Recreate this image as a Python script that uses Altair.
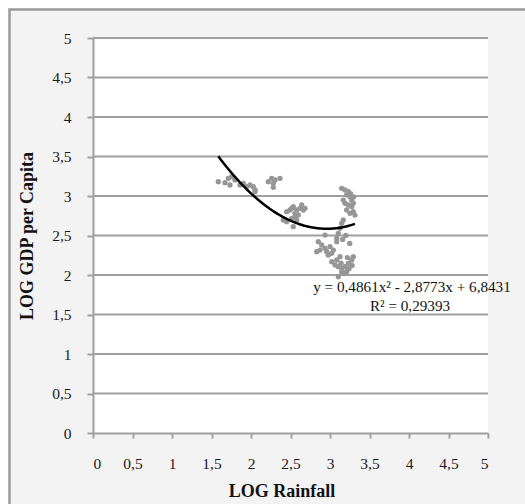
import altair as alt
import pandas as pd

# Scatter data (LOG Rainfall, LOG GDP per Capita)
log_rainfall = [
    1.586, 1.671, 1.713, 1.734, 1.755, 1.797, 1.861, 1.903, 1.945, 1.987, 2.029, 2.051, 2.051,
    2.219, 2.262, 2.304, 2.282, 2.282, 2.367,
    2.452, 2.494, 2.515, 2.535, 2.557, 2.578, 2.599, 2.620, 2.642, 2.662, 2.684, 2.409, 2.452,
    2.515, 2.535, 2.557, 2.578,
    3.148, 3.190, 3.232, 3.211, 3.253, 3.275, 3.168, 3.190, 3.232, 3.275, 3.295, 3.316, 3.211,
    3.253, 3.295, 3.260, 3.300,
    3.168, 3.148, 3.127, 3.105, 3.085, 3.085,
    2.937, 2.852, 2.895, 2.832, 2.873, 2.937, 2.958, 3.000, 2.978, 3.022, 3.042,
    3.022, 3.063, 3.105, 3.148, 3.190, 3.232, 3.275, 3.295, 3.148, 3.211, 3.105, 3.127, 3.085,
    3.160, 3.200, 3.250, 3.180, 3.280, 3.220, 3.140, 3.240,
]
log_gdp = [
    3.181, 3.168, 3.224, 3.139, 3.244, 3.203, 3.139, 3.160, 3.118, 3.139, 3.118, 3.076, 3.055,
    3.181, 3.224, 3.203, 3.160, 3.110, 3.224,
    2.801, 2.823, 2.844, 2.865, 2.781, 2.823, 2.760, 2.844, 2.886, 2.823, 2.844, 2.696, 2.675,
    2.718, 2.612, 2.739, 2.696,
    3.097, 3.076, 3.054, 3.013, 2.991, 2.949, 2.949, 2.908, 2.886, 2.865, 2.801, 2.759, 2.823,
    2.781, 2.908, 3.030, 2.990,
    2.696, 2.654, 2.591, 2.528, 2.465, 2.422,
    2.506, 2.422, 2.380, 2.295, 2.316, 2.338, 2.295, 2.358, 2.253, 2.275, 2.316,
    2.168, 2.127, 2.105, 2.085, 2.105, 2.148, 2.190, 2.232, 2.042, 2.042, 1.978, 2.232, 2.190,
    2.450, 2.500, 2.400, 2.020, 2.120, 2.220, 2.150, 2.080,
]

# Trendline shown on the chart: y = 0,4861x² - 2,8773x + 6,8431
coef_a, coef_b, coef_c = 0.4861, -2.8773, 6.8431
equation_text = "y = 0,4861x² - 2,8773x + 6,8431"
r2_text = "R² = 0,29393"

tick_values = [0, 0.5, 1, 1.5, 2, 2.5, 3, 3.5, 4, 4.5, 5]
grid_values = [0.5, 1, 1.5, 2, 2.5, 3, 3.5, 4, 4.5, 5]

W, H = 395, 395
FONT = "Liberation Serif"
GRAY = "#a0a0a0"

df = pd.DataFrame({"x": log_rainfall, "y": log_gdp})
grid_df = pd.DataFrame({"g": grid_values})

xscale = alt.Scale(domain=[0, 5], nice=False, zero=False)
yscale = alt.Scale(domain=[0, 5], nice=False, zero=False)
label_expr = "replace(toString(datum.value), '.', ',')"

x_axis = alt.Axis(
    values=tick_values, labelExpr=label_expr, grid=False, labelOverlap=False,
    domainColor=GRAY, domainWidth=2, tickColor=GRAY, tickWidth=2, tickSize=5,
    labelPadding=18, labelFont=FONT, labelFontSize=15.5, labelColor="#1a1a1a",
    titleFont=FONT, titleFontSize=18, titleFontWeight="bold", titleColor="#111",
    titleX=188.5, titleY=58, titleAlign="center", titleBaseline="middle", zindex=1,
)
y_axis = alt.Axis(
    values=tick_values, labelExpr=label_expr, grid=False, labelOverlap=False,
    domainColor=GRAY, domainWidth=2, tickColor=GRAY, tickWidth=2, tickSize=6,
    labelPadding=16, labelFont=FONT, labelFontSize=15.5, labelColor="#1a1a1a",
    titleFont=FONT, titleFontSize=18, titleFontWeight="bold", titleColor="#111",
    titleX=-66, titleY=H / 2, titleAngle=-90, titleBaseline="middle",
    titleAlign="center", zindex=1,
)

frame = alt.Chart(df).mark_rect(
    fill="#f3f3f3", stroke="#9a9a9a", strokeWidth=2.5
).encode(
    x=alt.value(-83.5), x2=alt.value(W + 60), y=alt.value(-28.5), y2=alt.value(H + 90)
).transform_filter("datum.x == " + str(log_rainfall[0]))

plot_bg = alt.Chart(df).mark_rect(fill="white").encode(
    x=alt.value(0), x2=alt.value(W), y=alt.value(0), y2=alt.value(H)
).transform_filter("datum.x == " + str(log_rainfall[0]))

grid = alt.Chart(grid_df).mark_rule(color=GRAY, strokeWidth=2).encode(
    y=alt.Y("g:Q", scale=yscale, axis=y_axis, title="LOG GDP per Capita"),
    x=alt.value(0), x2=alt.value(W),
)

points = alt.Chart(df).mark_circle(size=28, color="#969696", opacity=1).encode(
    x=alt.X("x:Q", scale=xscale, title="LOG Rainfall", axis=x_axis),
    y=alt.Y("y:Q", scale=yscale, title="LOG GDP per Capita", axis=y_axis),
)

trend = alt.Chart(alt.sequence(start=min(log_rainfall), stop=max(log_rainfall) + 0.005, step=0.01, as_="x")).transform_calculate(
    y=f"{coef_a} * datum.x * datum.x + ({coef_b}) * datum.x + {coef_c}"
).mark_line(color="black", strokeWidth=2.5).encode(
    x=alt.X("x:Q", scale=xscale, title="LOG Rainfall", axis=x_axis),
    y=alt.Y("y:Q", scale=yscale, title="LOG GDP per Capita", axis=y_axis),
)

eq = alt.Chart(pd.DataFrame({"t": [equation_text]})).mark_text(
    font=FONT, fontSize=15.2, color="#111", align="center", baseline="middle"
).encode(text="t:N", x=alt.value(319), y=alt.value(249))

r2 = alt.Chart(pd.DataFrame({"t": [r2_text]})).mark_text(
    font=FONT, fontSize=15.2, color="#111", align="center", baseline="middle"
).encode(text="t:N", x=alt.value(317), y=alt.value(268))

chart = alt.layer(frame, plot_bg, grid, points, trend, eq, r2).properties(
    width=W, height=H,
    padding={"left": 93, "top": 38, "right": 37, "bottom": 71},
    autosize=alt.AutoSizeParams(type="none"),
    background="white",
).configure_view(stroke=None, fill=None)

chart.save("out.html", embed_options={"renderer": "svg", "actions": False})
